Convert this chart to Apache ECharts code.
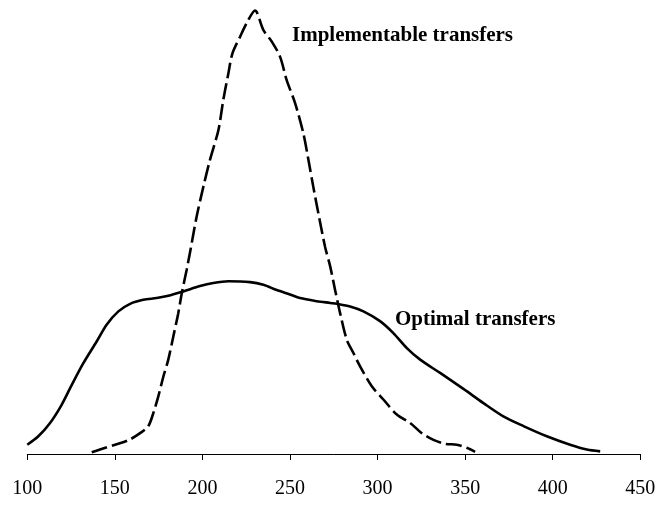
<!DOCTYPE html>
<html>
<head>
<meta charset="utf-8">
<script src="https://cdn.jsdelivr.net/npm/echarts@6/dist/echarts.min.js"></script>
<style>html,body{margin:0;padding:0;background:#fff}#c{width:661px;height:506px}</style>
</head>
<body>
<div id="c"></div>
<script>
var xTicks = [100, 150, 200, 250, 300, 350, 400, 450];

var optimalX = [100.0,106.3,113.0,119.6,125.4,132.0,139.6,145.3,152.0,158.7,166.2,173.9,180.5,189.1,198.6,206.2,214.8,227.2,234.8,242.4,250.0,255.7,265.3,272.9,276.7,284.3,291.9,301.4,309.0,316.7,324.3,335.7,349.0,360.4,371.8,383.3,396.6,409.9,419.5,427.1];
var optimalY = [2.1,4.0,7.0,11.1,15.6,20.5,25.4,29.2,32.2,33.9,34.8,35.2,35.7,36.7,37.9,38.6,39.0,38.8,38.2,37.0,36.0,35.2,34.5,34.1,33.9,33.3,32.2,30.0,27.3,23.9,21.3,18.3,14.7,11.5,8.5,6.3,4.0,2.1,1.0,0.6];

var implX = [136.8,141.5,150.1,157.7,164.4,169.1,172.0,174.8,177.7,180.5,183.4,186.2,188.2,191.0,192.9,196.7,200.5,204.3,209.1,211.9,214.8,217.1,221.5,226.2,230.0,234.8,239.6,244.3,248.1,252.9,257.6,260.5,263.3,266.2,270.0,272.9,275.7,278.6,282.4,286.2,290.0,296.7,303.3,311.0,318.6,325.2,331.9,338.6,345.2,350.9,355.7];
var implY = [0.4,1.0,2.1,3.1,4.7,6.3,9.3,13.0,17.5,21.3,26.6,31.8,36.3,41.6,45.5,53.6,60.3,66.4,73.1,79.9,85.9,90.4,94.2,98.0,100.1,95.7,93.1,89.7,84.4,79.2,72.4,66.4,60.3,54.3,46.8,42.4,37.1,31.8,25.8,22.8,19.8,15.3,12.3,8.9,7.0,4.7,3.2,2.3,2.1,1.4,0.5];

var labelImpl = 'Implementable transfers';
var labelOpt = 'Optimal transfers';

function pairs(xs, ys) { return xs.map(function (x, i) { return [x, ys[i]]; }); }

var chart = echarts.init(document.getElementById('c'), null, {renderer: 'canvas'});
chart.setOption({
  backgroundColor: '#ffffff',
  animation: false,
  grid: {left: 27.3, right: 20.7, top: 11, bottom: 52, containLabel: false},
  xAxis: {
    type: 'value', min: 100, max: 450, interval: 50,
    axisLine: {show: true, lineStyle: {color: '#000', width: 1}},
    axisTick: {show: true, length: 6, lineStyle: {color: '#000', width: 1}},
    axisLabel: {color: '#000', fontFamily: 'Liberation Serif', fontSize: 20, margin: 25,
      formatter: function (v) { return xTicks.indexOf(v) >= 0 ? String(v) : ''; }},
    splitLine: {show: false}
  },
  yAxis: {
    type: 'value', min: 0, max: 100,
    show: false, splitLine: {show: false}
  },
  series: [
    {
      name: labelOpt, type: 'line', data: pairs(optimalX, optimalY),
      showSymbol: false, smooth: 0.3, clip: false,
      lineStyle: {color: '#000', width: 2.6, type: 'solid'}
    },
    {
      name: labelImpl, type: 'line', data: pairs(implX, implY),
      showSymbol: false, smooth: 0.3, clip: false,
      lineStyle: {color: '#000', width: 2.6, type: [16, 5]}
    }
  ],
  graphic: [
    {type: 'text', left: 292, top: 25, style: {text: labelImpl, fill: '#000', font: 'bold 21px "Liberation Serif"'}},
    {type: 'text', left: 395, top: 309, style: {text: labelOpt, fill: '#000', font: 'bold 21px "Liberation Serif"'}}
  ]
});
</script>
</body>
</html>
